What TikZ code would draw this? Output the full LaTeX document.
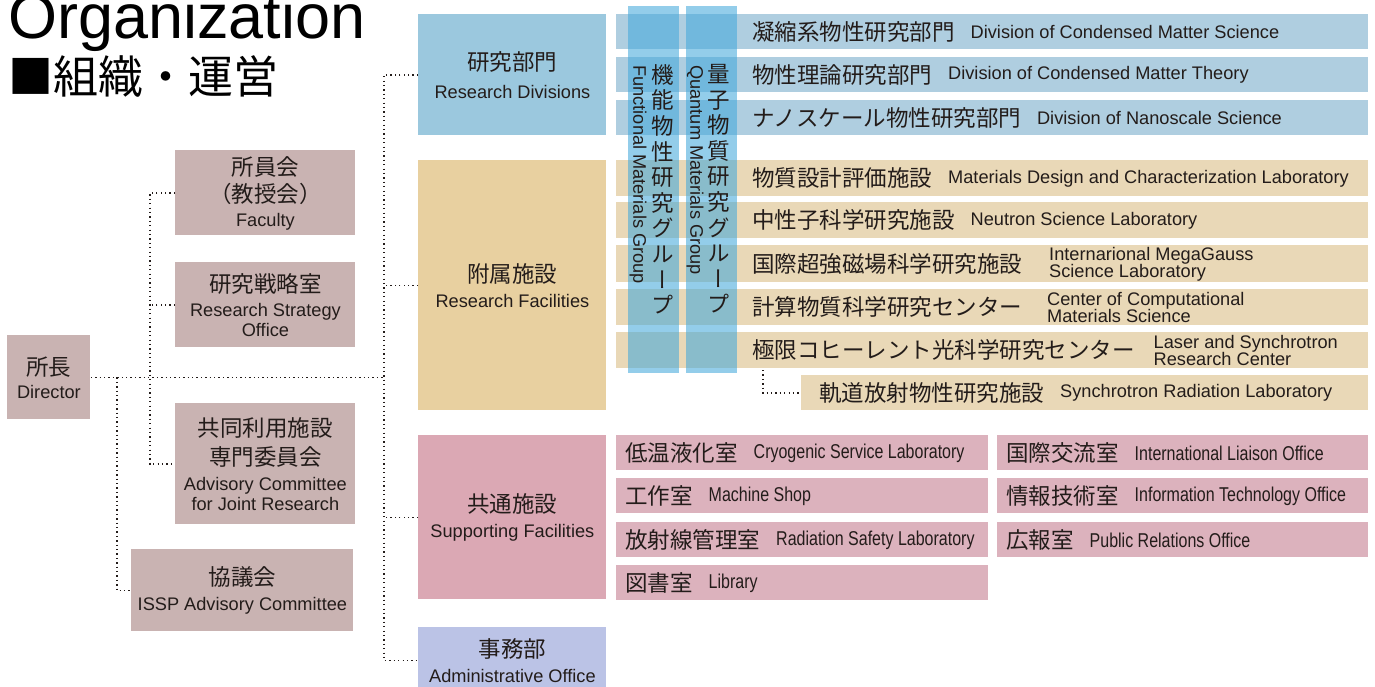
\documentclass[tikz,border=0pt]{standalone}
\usepackage{fontspec}
\usepackage{graphicx}
\setmainfont{Noto Sans CJK JP}
\newfontfamily\enfont{Liberation Sans}
\newfontfamily\condfont[FakeStretch=0.8]{Liberation Sans}
\newfontfamily\vertfont[RawFeature=+vert]{Noto Sans CJK JP}
\newfontfamily\titlefont{Liberation Sans}
\usetikzlibrary{positioning}

\definecolor{ink}{RGB}{35,28,26}
\definecolor{commc}{RGB}{201,179,178}
\definecolor{divhead}{RGB}{155,200,222}
\definecolor{divrowc}{RGB}{175,206,224}
\definecolor{fachead}{RGB}{232,208,160}
\definecolor{facrowc}{RGB}{233,216,183}
\definecolor{suphead}{RGB}{219,168,180}
\definecolor{suprowc}{RGB}{220,178,189}
\definecolor{admhead}{RGB}{187,195,230}
\definecolor{grpc}{RGB}{69,169,219}

\newcommand\jp{\fontsize{11.25pt}{13.5pt}\selectfont}
\newcommand\en{\enfont\fontsize{9.1pt}{13pt}\selectfont}
\newcommand\enc{\condfont\fontsize{10pt}{13pt}\selectfont}
\newcommand\entwo{\enfont\fontsize{9.1pt}{8.5pt}\selectfont\lineskiplimit=-20pt\relax}

\begin{document}
\begin{tikzpicture}[x=0.5pt,y=-0.5pt,
  sz/.style 2 args={minimum width=#1*0.5pt,minimum height=#2*0.5pt},
  cbox/.style={fill=#1,inner sep=0pt,anchor=north west,align=center,text=ink,font=\jp},
  rowbox/.style={fill=#1,inner sep=0pt,anchor=north west},
  rowtxt/.style={anchor=west,inner sep=0pt,text=ink,font=\jp},
  entxt/.style={inner sep=0pt,text=ink,font=\en},
  entxttwo/.style={inner sep=0pt,text=ink,font=\entwo,align=left},
  dotline/.style={line width=0.65pt,dash pattern=on 0.65pt off 1.55pt,ink}]
\useasboundingbox (0,0) rectangle (1375,686);

% title (top is cut by the page)
\node[anchor=base west,inner sep=0pt,text=black,font=\titlefont\fontsize{31.5pt}{32pt}\selectfont] (ttl) at (8,38) {Organization};
\node[anchor=west,inner sep=0pt,text=black,font=\fontsize{22.5pt}{24pt}\selectfont] (sub) at (8,77) {■組織・運営};

% director and committees
\node[cbox=commc,sz={83}{84}] (dir) at (7,335) {所長\\[-2pt]{\en Director}};
\node[cbox=commc,sz={180}{85}] (fac) at (175,150) {\\[-4pt]所員会\\（教授会）\\[-1.5pt]{\en Faculty}};
\node[cbox=commc,sz={180}{85}] (rso) at (175,262) {研究戦略室\\[-1.5pt]{\en Research Strategy}\\[-3.5pt]{\en Office}};
\node[cbox=commc,sz={180}{121}] (acjr) at (175,403) {共同利用施設\\[1pt]専門委員会\\[-1pt]{\en Advisory Committee}\\[-3.5pt]{\en for Joint Research}};
\node[cbox=commc,sz={222}{82}] (issp) at (131,549) {協議会\\[-1pt]{\en ISSP Advisory Committee}};

% main units
\node[cbox=divhead,sz={188}{121}] (rdiv) at (418,14) {研究部門\\[0.5pt]{\en Research Divisions}};
\node[cbox=fachead,sz={188}{250}] (rfac) at (418,160) {附属施設\\[-1pt]{\en Research Facilities}};
\node[cbox=suphead,sz={188}{164}] (sfac) at (418,435) {共通施設\\[-1pt]{\en Supporting Facilities}};
\node[cbox=admhead,sz={188}{66}] (adm) at (418,627) {事務部\\[-1pt]{\en Administrative Office}};

% connectors
\coordinate (mspine) at (117,0);
\coordinate (lspine) at (150,0);
\coordinate (rspine) at (384,0);
\draw[dotline] (dir.east) -- (dir.east -| rspine);
\draw[dotline] (fac.west) -- (fac.west -| lspine) |- (acjr.west);
\draw[dotline] (rso.west) -- (rso.west -| lspine);
\draw[dotline] (dir.east -| mspine) |- (issp.west);
\draw[dotline] (rdiv.west) -- (rdiv.west -| rspine) |- (adm.west);
\draw[dotline] (rfac.west) -- (rfac.west -| rspine);
\draw[dotline] (sfac.west) -- (sfac.west -| rspine);

% research divisions
\node[rowbox=divrowc,sz={752}{35}] (cms) at (616,14) {};
\node[rowbox=divrowc,sz={752}{35}] (cmt) at (616,57) {};
\node[rowbox=divrowc,sz={752}{35}] (nano) at (616,100) {};
\node[rowtxt] (cmsj) at ([xshift=68pt]cms.west) {凝縮系物性研究部門};
\node[entxt,right=7.5pt of cmsj] (cmse) {Division of Condensed Matter Science};
\node[rowtxt] (cmtj) at ([xshift=68pt]cmt.west) {物性理論研究部門};
\node[entxt,right=7.5pt of cmtj] (cmte) {Division of Condensed Matter Theory};
\node[rowtxt] (nanoj) at ([xshift=68pt]nano.west) {ナノスケール物性研究部門};
\node[entxt,right=7.5pt of nanoj] (nanoe) {Division of Nanoscale Science};

% research facilities
\node[rowbox=facrowc,sz={752}{36}] (mdcl) at (616,160) {};
\node[rowbox=facrowc,sz={752}{36}] (nsl) at (616,202) {};
\node[rowbox=facrowc,sz={752}{37}] (mgl) at (616,245) {};
\node[rowbox=facrowc,sz={752}{36}] (ccms) at (616,289) {};
\node[rowbox=facrowc,sz={752}{36}] (lasor) at (616,332) {};
\node[rowbox=facrowc,sz={567}{35}] (srl) at (801,375) {};
\node[rowtxt] (mdclj) at ([xshift=68pt]mdcl.west) {物質設計評価施設};
\node[entxt,right=7.5pt of mdclj] (mdcle) {Materials Design and Characterization Laboratory};
\node[rowtxt] (nslj) at ([xshift=68pt]nsl.west) {中性子科学研究施設};
\node[entxt,right=7.5pt of nslj] (nsle) {Neutron Science Laboratory};
\node[rowtxt] (mglj) at ([xshift=68pt]mgl.west) {国際超強磁場科学研究施設};
\node[entxttwo,right=13pt of mglj] (mgle) {Internarional MegaGauss\\Science Laboratory};
\node[rowtxt] (ccmsj) at ([xshift=68pt]ccms.west) {計算物質科学研究センター};
\node[entxttwo,right=12pt of ccmsj] (ccmse) {Center of Computational\\Materials Science};
\node[rowtxt] (lasorj) at ([xshift=68pt]lasor.west) {極限コヒーレント光科学研究センター};
\node[entxttwo,right=9pt of lasorj] (lasore) {Laser and Synchrotron\\Research Center};
\node[rowtxt] (srlj) at ([xshift=9pt]srl.west) {軌道放射物性研究施設};
\node[entxt,right=7.5pt of srlj] (srle) {Synchrotron Radiation Laboratory};
\coordinate (lasorfoot) at (763,370);
\draw[dotline] (lasorfoot) |- (srl.west);

% supporting facilities
\node[rowbox=suprowc,sz={372}{35}] (cryo) at (616,435) {};
\node[rowbox=suprowc,sz={372}{35}] (mach) at (616,478) {};
\node[rowbox=suprowc,sz={372}{35}] (rad) at (616,522) {};
\node[rowbox=suprowc,sz={372}{35}] (lib) at (616,565) {};
\node[rowbox=suprowc,sz={371}{35}] (ilo) at (997,435) {};
\node[rowbox=suprowc,sz={371}{35}] (ito) at (997,478) {};
\node[rowbox=suprowc,sz={371}{35}] (pro) at (997,522) {};
\node[rowtxt] (cryoj) at ([xshift=4.5pt]cryo.west) {低温液化室};
\node[entxt,font=\enc,right=7.5pt of cryoj] (cryoe) {Cryogenic Service Laboratory};
\node[rowtxt] (machj) at ([xshift=4.5pt]mach.west) {工作室};
\node[entxt,font=\enc,right=7.5pt of machj] (mache) {Machine Shop};
\node[rowtxt] (radj) at ([xshift=4.5pt]rad.west) {放射線管理室};
\node[entxt,font=\enc,right=7.5pt of radj] (rade) {Radiation Safety Laboratory};
\node[rowtxt] (libj) at ([xshift=4.5pt]lib.west) {図書室};
\node[entxt,font=\enc,right=7.5pt of libj] (libe) {Library};
\node[rowtxt] (iloj) at ([xshift=4.5pt]ilo.west) {国際交流室};
\node[entxt,font=\enc,right=7.5pt of iloj] (iloe) {International Liaison Office};
\node[rowtxt] (itoj) at ([xshift=4.5pt]ito.west) {情報技術室};
\node[entxt,font=\enc,right=7.5pt of itoj] (itoe) {Information Technology Office};
\node[rowtxt] (proj) at ([xshift=4.5pt]pro.west) {広報室};
\node[entxt,font=\enc,right=7.5pt of proj] (proe) {Public Relations Office};

% group bars across the rows
\fill[grpc,fill opacity=0.58] (628,6) rectangle (679,373);
\fill[grpc,fill opacity=0.58] (686,6) rectangle (737,373);
\node[anchor=north,inner sep=0pt,align=center,text=ink,font=\vertfont\fontsize{11.25pt}{12.8pt}\selectfont] (fmgj) at (663,64) {機\\能\\物\\性\\研\\究\\グ\\ル\\ー\\プ};
\node[anchor=west,rotate=-90,inner sep=0pt,text=ink,font=\en] (fmge) at (638,65) {Functional Materials Group};
\node[anchor=north,inner sep=0pt,align=center,text=ink,font=\vertfont\fontsize{11.25pt}{12.8pt}\selectfont] (qmgj) at (719,64) {量\\子\\物\\質\\研\\究\\グ\\ル\\ー\\プ};
\node[anchor=west,rotate=-90,inner sep=0pt,text=ink,font=\en] (qmge) at (695,65) {Quantum Materials Group};
\end{tikzpicture}
\end{document}
